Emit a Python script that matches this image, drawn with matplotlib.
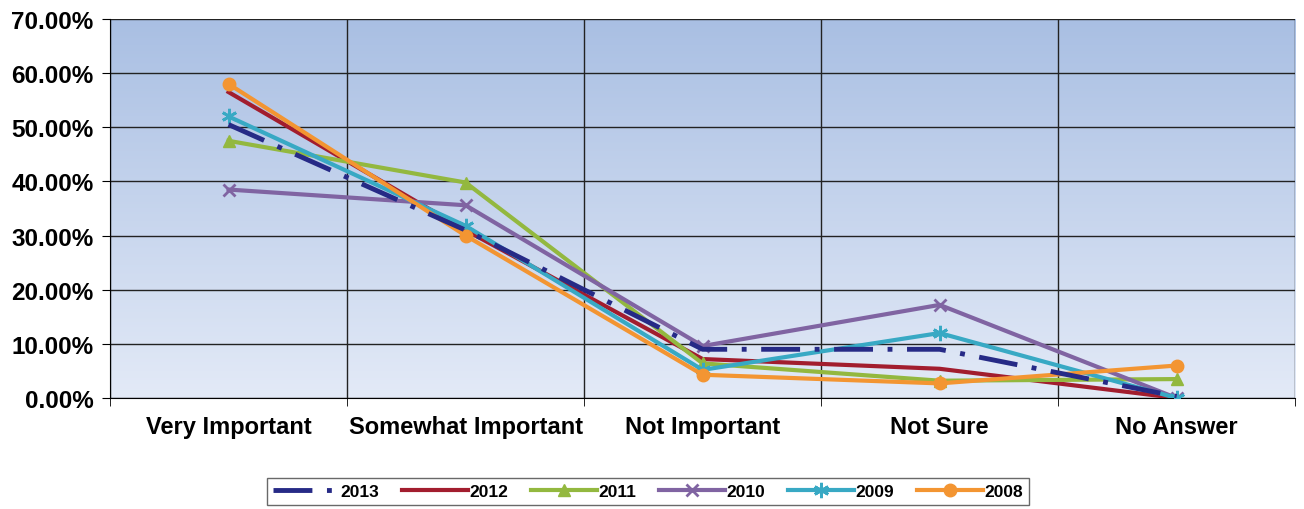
import numpy as np
import matplotlib
matplotlib.use("Agg")
import matplotlib.pyplot as plt
from matplotlib.ticker import FuncFormatter
from matplotlib.colors import LinearSegmentedColormap

plt.rcParams['font.family'] = ['Liberation Sans', 'DejaVu Sans']

# data
categories = ['Very Important', 'Somewhat Important', 'Not Important', 'Not Sure', 'No Answer']
y2013 = [50.5, 31.0, 9.0, 9.0, 0.3]
y2012 = [56.5, 31.0, 7.2, 5.4, 0.0]
y2011 = [47.5, 39.8, 6.4, 3.2, 3.5]
y2010 = [38.5, 35.6, 9.6, 17.2, 0.0]
y2009 = [52.0, 31.8, 5.2, 12.0, 0.0]
y2008 = [58.0, 30.0, 4.3, 2.7, 6.0]

fig = plt.figure(figsize=(13.04, 5.10), dpi=100)
ax = fig.add_axes([0.0844, 0.2176, 0.9088, 0.7432])

x = np.arange(len(categories))

# gradient background
grad = np.linspace(0, 1, 256).reshape(-1, 1)
cmap = LinearSegmentedColormap.from_list('bg', ['#e3eaf7', '#a9bfe3'])
ax.imshow(grad, aspect='auto', cmap=cmap, origin='lower',
          extent=[-0.5, 4.5, 0, 70], zorder=0)

ax.plot(x, y2013, color='#262a86', lw=3.5, dashes=(8, 3, 1, 3), label='2013', zorder=6)
ax.plot(x, y2012, color='#a21d2e', lw=3, label='2012', zorder=3)
ax.plot(x, y2011, color='#93b83f', lw=3, marker='^', ms=9, label='2011', zorder=3)
ax.plot(x, y2010, color='#8064a2', lw=3, marker='x', ms=9, mew=2, label='2010', zorder=3)
ax.plot(x, y2009, color='#38a9c4', lw=3, marker=(6, 2, 0), ms=11, mew=2, label='2009', zorder=4)
ax.plot(x, y2008, color='#f39532', lw=3, marker='o', ms=9, label='2008', zorder=5)

ax.set_xlim(-0.5, 4.5)
ax.set_ylim(0, 70)
ax.set_yticks(np.arange(0, 71, 10))
ax.yaxis.set_major_formatter(FuncFormatter(lambda v, p: f'{v:.2f}%'))
ax.set_xticks(x)
ax.set_xticklabels(categories)
ax.set_xticks(np.arange(-0.5, 4.6, 1), minor=True)
ax.grid(True, which='minor', axis='x', color='#222222', lw=1)
ax.grid(True, which='major', axis='y', color='#222222', lw=1)
ax.tick_params(axis='x', which='major', length=0, pad=12)
ax.tick_params(axis='x', which='minor', length=6)
ax.tick_params(axis='y', length=6, pad=6)
for lab in ax.get_xticklabels():
    lab.set_fontsize(17)
    lab.set_fontweight('bold')
for lab in ax.get_yticklabels():
    lab.set_fontsize(17.5)
    lab.set_fontweight('bold')
for s in ['top', 'right']:
    ax.spines[s].set_visible(False)

leg = fig.legend(loc='center', bbox_to_anchor=(0.497, 0.034), ncol=6,
                 frameon=True, fancybox=False, edgecolor='#444444',
                 prop={'weight': 'bold', 'size': 12.5}, handlelength=3.8,
                 columnspacing=1.3, handletextpad=0.1, borderpad=0.35)
leg.get_frame().set_linewidth(1)

fig.savefig('out.png', dpi=100)
